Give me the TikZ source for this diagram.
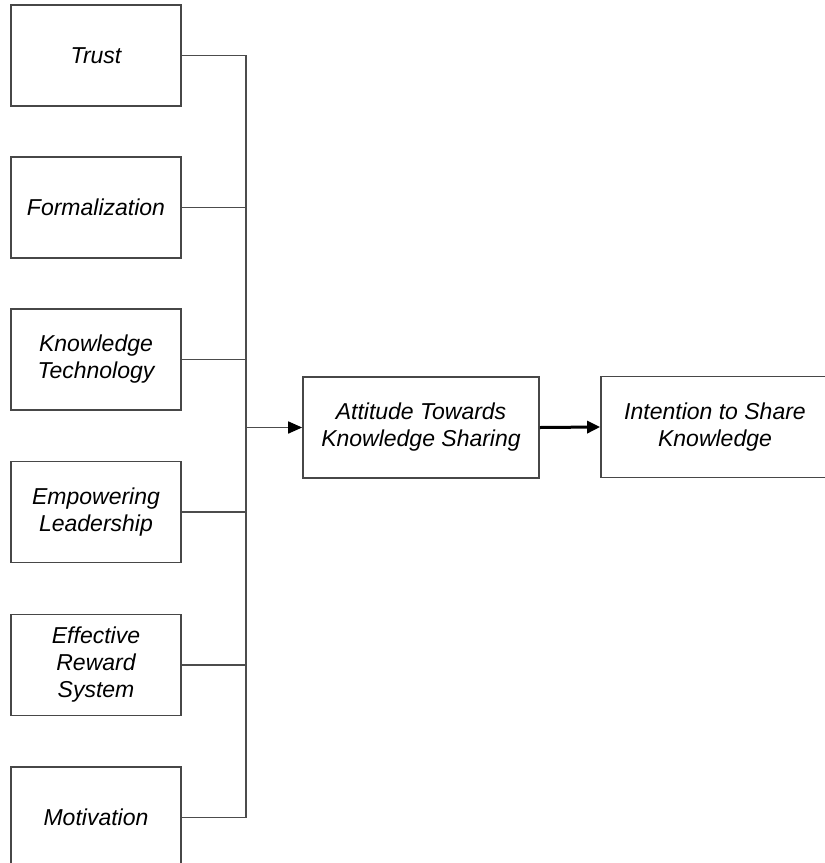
\documentclass[tikz,border=0pt]{standalone}
\usepackage{fontspec}
\setmainfont{Liberation Sans}
\usetikzlibrary{arrows.meta}
\begin{document}
\begin{tikzpicture}[x=1pt,y=1pt,
  box/.style={draw=black!72, line width=1.7pt, fill=white, align=center,
    inner sep=0pt, font=\fontsize{23}{27}\selectfont\itshape},
  factor/.style={box, minimum width=170pt, minimum height=101pt},
  hub/.style={box, minimum width=236pt, minimum height=101pt},
  outcome/.style={box, minimum width=228pt, minimum height=101pt},
  link/.style={draw=black!70, line width=1.7pt},
  flow/.style={link, -{Triangle[length=14pt,width=12pt,black]}},
  bold flow/.style={draw=black, line width=3pt, -{Triangle[length=13pt,width=12pt]}}]
\useasboundingbox (0,0) rectangle (825,-863);
\clip (0,0) rectangle (825,-863);
\fill[white] (0,0) rectangle (825,-863);

% antecedent factors
\node[factor] (trust) at (96,-55.5) {Trust};
\node[factor] (form)  at (96,-207.5) {Formalization};
\node[factor] (tech)  at (96,-359.5) {Knowledge\\Technology};
\node[factor] (lead)  at (96,-512) {Empowering\\Leadership};
\node[factor] (rew)   at (96,-665) {Effective\\Reward\\System};
\node[factor] (mot)   at (96,-817.5) {Motivation};

% attitude and intention
\node[hub] (att) at (421,-427.5) {Attitude Towards\\Knowledge Sharing};
\node[outcome] (int) at (715,-427) {Intention to Share\\Knowledge};

% collecting bus
\coordinate (bus) at (246,-427.5);
\foreach \f in {trust,form,tech,lead,rew,mot}
  \draw[link] (\f.east) -| (bus);
\draw[flow] (bus) -- (att.west);
\draw[bold flow] (att.east) -- (int.west);
\end{tikzpicture}
\end{document}
